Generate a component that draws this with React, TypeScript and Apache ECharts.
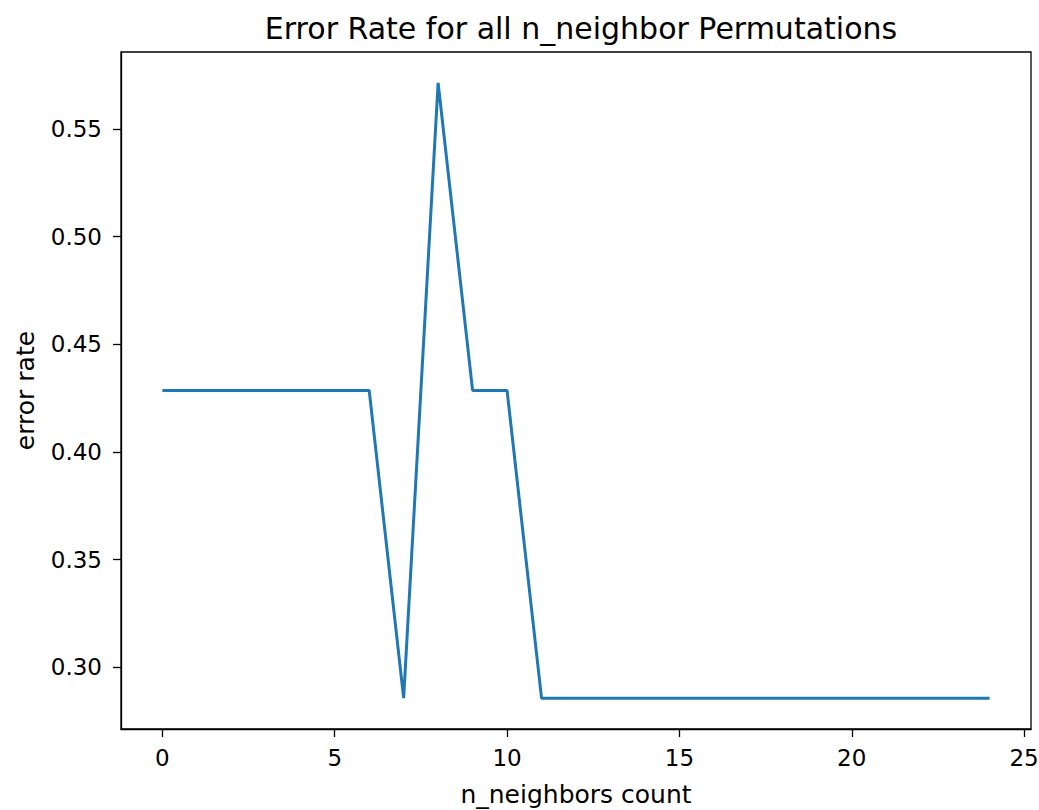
import React, { useEffect, useRef } from "react";
import * as echarts from "echarts";

const titleText = "Error Rate for all n_neighbor Permutations";
const xAxisName = "n_neighbors count";
const yAxisName = "error rate";

const nNeighbors = [0, 1, 2, 3, 4, 5, 6, 7, 8, 9, 10, 11, 12, 13, 14, 15, 16, 17, 18, 19, 20, 21, 22, 23, 24];
const errorRates = [
  0.4286, 0.4286, 0.4286, 0.4286, 0.4286, 0.4286, 0.4286, 0.2857, 0.5714, 0.4286,
  0.4286, 0.2857, 0.2857, 0.2857, 0.2857, 0.2857, 0.2857, 0.2857, 0.2857, 0.2857,
  0.2857, 0.2857, 0.2857, 0.2857, 0.2857,
];
const xTicks = [0, 5, 10, 15, 20, 25];
const yTicks = [0.3, 0.35, 0.4, 0.45, 0.5, 0.55];
const xRange = [-1.2, 25.2];
const yRange = [0.2714, 0.5857];

const FONT = "DejaVu Sans";

export default function App() {
  const ref = useRef<HTMLDivElement>(null);
  useEffect(() => {
    if (!ref.current) return;
    const chart = echarts.init(ref.current, null, { renderer: "svg" });
    const data = nNeighbors.map((x, i) => [x, errorRates[i]]);
    chart.setOption({
      animation: false,
      backgroundColor: "#ffffff",
      title: {
        text: titleText,
        left: 576,
        textAlign: "center",
        top: 8,
        textStyle: { fontFamily: FONT, fontSize: 30, fontWeight: "normal", color: "#000" },
      },
      grid: {
        left: 121,
        top: 52,
        right: 8,
        bottom: 81,
        show: true,
        borderColor: "#000",
        borderWidth: 1.3,
        backgroundColor: "transparent",
        outerBoundsMode: "none",
      },
      xAxis: {
        type: "value",
        min: xRange[0],
        max: xRange[1],
        name: xAxisName,
        nameLocation: "middle",
        nameGap: 53,
        nameTextStyle: { fontFamily: FONT, fontSize: 25, color: "#000" },
        axisLine: { show: true, onZero: false, lineStyle: { color: "#000", width: 1.3 } },
        axisTick: { show: true, length: 8, lineStyle: { color: "#000", width: 1.3 }, customValues: xTicks },
        axisLabel: {
          show: true,
          margin: 17,
          fontFamily: FONT,
          fontSize: 23,
          color: "#000",
          customValues: xTicks,
          formatter: (v: number) => String(Math.round(v)),
        },
        splitLine: { show: false },
      },
      yAxis: {
        type: "value",
        min: yRange[0],
        max: yRange[1],
        name: yAxisName,
        nameLocation: "middle",
        nameGap: 83,
        nameTextStyle: { fontFamily: FONT, fontSize: 25, color: "#000" },
        axisLine: { show: true, onZero: false, lineStyle: { color: "#000", width: 1.3 } },
        axisTick: { show: true, length: 8, lineStyle: { color: "#000", width: 1.3 }, customValues: yTicks },
        axisLabel: {
          show: true,
          margin: 19,
          fontFamily: FONT,
          fontSize: 23,
          color: "#000",
          customValues: yTicks,
          formatter: (v: number) => v.toFixed(2),
        },
        splitLine: { show: false },
      },
      series: [
        {
          type: "line",
          data,
          showSymbol: false,
          symbol: "none",
          lineStyle: { color: "#1f77b4", width: 3 },
          itemStyle: { color: "#1f77b4" },
        },
      ],
    });
    return () => chart.dispose();
  }, []);
  return (
    <div
      ref={ref}
      style={{ position: "absolute", left: 0, top: 0, width: 1039, height: 810 }}
    />
  );
}
